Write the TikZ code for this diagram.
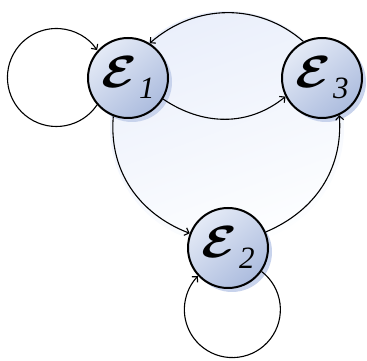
\documentclass[tikz,border=0pt]{standalone}
\usepackage{bm}
\usepackage{fontspec}
\setmainfont{Liberation Serif}
\usetikzlibrary{arrows.meta,shadows}
\definecolor{nodetop}{RGB}{228,234,246}
\definecolor{nodebot}{RGB}{172,188,222}
\definecolor{shadowc}{RGB}{200,211,236}
\definecolor{bgtop}{RGB}{234,239,251}
\definecolor{bgbot}{RGB}{253,254,255}
\newcommand\stlabel[1]{\scalebox{5.2}[4.5]{$\bm{\mathcal{E}}$}\kern2pt\raisebox{-11pt}{\fontsize{31}{31}\selectfont\itshape #1}}
\tikzset{
  statenode/.style={circle, draw=black, line width=2pt, minimum size=80pt, inner sep=0pt,
    top color=nodetop, bottom color=nodebot, shading angle=40,
    drop shadow={fill=shadowc, opacity=1, shadow xshift=4pt, shadow yshift=-4pt}},
  edgeline/.style={line width=1.1pt, -{Straight Barb[length=4pt,width=8pt,line width=1.1pt]}}
}
\begin{document}
\begin{tikzpicture}[x=1pt,y=1pt]
\useasboundingbox (0,0) rectangle (367,361);
\shade[top color=bgtop, bottom color=bgbot, shading angle=20] (227,233) circle[radius=117];
\node[statenode] (e1) at (128,283) {\stlabel{1}};
\node[statenode] (e3) at (322,283) {\stlabel{3}};
\node[statenode] (e2) at (228,113) {\stlabel{2}};
\draw[edgeline] (e3.117) to[out=139, in=41] (e1.58);
\draw[edgeline] (e1.-31) to[out=-34, in=219] (e3.207);
\draw[edgeline] (e1.249) to[out=265, in=159] (e2.159);
\draw[edgeline] (e2.23) to[out=23, in=-86] (e3.-65);
\draw[edgeline] (e1.221) arc[start angle=-34, end angle=-326, radius=49];
\draw[edgeline] (e2.-35) arc[start angle=52.5, end angle=-224.2, radius=48];
\end{tikzpicture}
\end{document}
